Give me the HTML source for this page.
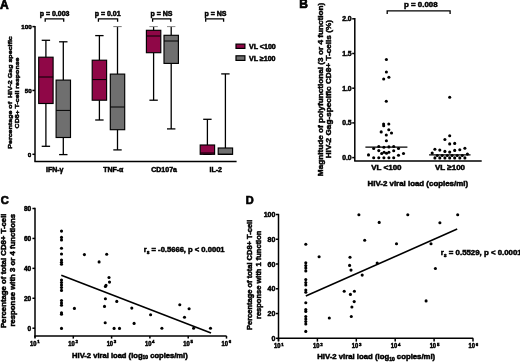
<!DOCTYPE html>
<html><head><meta charset="utf-8"><style>
html,body{margin:0;padding:0;background:#fff;}
body{width:520px;height:362px;overflow:hidden;}
svg{display:block;will-change:transform;}
text{font-family:"Liberation Sans", sans-serif;font-weight:bold;fill:#000;stroke:#000;stroke-width:0.5px;}
</style></head><body>
<svg width="520" height="362" viewBox="0 0 520 362">
<rect width="520" height="362" fill="#fff"/>
<text transform="translate(0.00,8.60) scale(1.0,1.0)" font-size="12" text-anchor="start" style="stroke-width:0.7px">A</text>
<text transform="translate(299.30,8.40) scale(1.0,1.0)" font-size="12" text-anchor="start" style="stroke-width:0.7px">B</text>
<text transform="translate(0.80,204.20) scale(1.0,1.0)" font-size="11.1" text-anchor="start" style="stroke-width:0.7px">C</text>
<text transform="translate(245.80,204.10) scale(1.0,1.0)" font-size="11.0" text-anchor="start" style="stroke-width:0.7px">D</text>
<line x1="35.00" y1="25.95" x2="35.00" y2="161.40" stroke="#000" stroke-width="1.5"/>
<line x1="34.35" y1="161.40" x2="236.60" y2="161.40" stroke="#000" stroke-width="1.5"/>
<line x1="32.40" y1="154.30" x2="35.00" y2="154.30" stroke="#000" stroke-width="1.5"/>
<line x1="32.40" y1="90.45" x2="35.00" y2="90.45" stroke="#000" stroke-width="1.5"/>
<line x1="32.40" y1="26.60" x2="35.00" y2="26.60" stroke="#000" stroke-width="1.5"/>
<text transform="translate(31.60,28.80) scale(1.0,1.0)" font-size="6.2" text-anchor="end" >100</text>
<text transform="translate(31.60,92.65) scale(1.0,1.0)" font-size="6.2" text-anchor="end" >50</text>
<text transform="translate(31.30,156.50) scale(1.0,1.0)" font-size="6.2" text-anchor="end" >0</text>
<text transform="translate(11.80,92.50) scale(0.88,1) rotate(-90)" x="0" y="0" font-size="7.1" text-anchor="middle" >Percentage of&#160; HIV-2 Gag specific</text>
<text transform="translate(19.30,93.00) scale(0.88,1) rotate(-90)" x="0" y="0" font-size="7.0" text-anchor="middle" >CD8+ T-cell response</text>
<line x1="45.90" y1="40.30" x2="45.90" y2="57.20" stroke="#000" stroke-width="1.3"/>
<line x1="41.70" y1="40.30" x2="50.10" y2="40.30" stroke="#000" stroke-width="1.3"/>
<line x1="45.90" y1="103.50" x2="45.90" y2="146.30" stroke="#000" stroke-width="1.3"/>
<line x1="41.70" y1="146.30" x2="50.10" y2="146.30" stroke="#000" stroke-width="1.3"/>
<rect x="38.70" y="57.20" width="14.40" height="46.30" fill="#8f0747" stroke="#000" stroke-width="1.15"/>
<line x1="38.70" y1="77.00" x2="53.10" y2="77.00" stroke="#000" stroke-width="1.0"/>
<line x1="63.30" y1="41.80" x2="63.30" y2="80.10" stroke="#000" stroke-width="1.3"/>
<line x1="59.10" y1="41.80" x2="67.50" y2="41.80" stroke="#000" stroke-width="1.3"/>
<line x1="63.30" y1="137.50" x2="63.30" y2="154.60" stroke="#000" stroke-width="1.3"/>
<line x1="59.10" y1="154.60" x2="67.50" y2="154.60" stroke="#000" stroke-width="1.3"/>
<rect x="56.10" y="80.10" width="14.40" height="57.40" fill="#6f6f6f" stroke="#000" stroke-width="1.15"/>
<line x1="56.10" y1="110.40" x2="70.50" y2="110.40" stroke="#000" stroke-width="1.0"/>
<line x1="99.40" y1="35.60" x2="99.40" y2="60.20" stroke="#000" stroke-width="1.3"/>
<line x1="95.20" y1="35.60" x2="103.60" y2="35.60" stroke="#000" stroke-width="1.3"/>
<line x1="99.40" y1="100.20" x2="99.40" y2="120.00" stroke="#000" stroke-width="1.3"/>
<line x1="95.20" y1="120.00" x2="103.60" y2="120.00" stroke="#000" stroke-width="1.3"/>
<rect x="92.20" y="60.20" width="14.40" height="40.00" fill="#8f0747" stroke="#000" stroke-width="1.15"/>
<line x1="92.20" y1="79.60" x2="106.60" y2="79.60" stroke="#000" stroke-width="1.0"/>
<line x1="117.50" y1="26.60" x2="117.50" y2="74.10" stroke="#000" stroke-width="1.3"/>
<line x1="113.30" y1="26.60" x2="121.70" y2="26.60" stroke="#777" stroke-width="1.0"/>
<line x1="117.50" y1="129.70" x2="117.50" y2="149.90" stroke="#000" stroke-width="1.3"/>
<line x1="113.30" y1="149.90" x2="121.70" y2="149.90" stroke="#000" stroke-width="1.3"/>
<rect x="110.30" y="74.10" width="14.40" height="55.60" fill="#6f6f6f" stroke="#000" stroke-width="1.15"/>
<line x1="110.30" y1="107.00" x2="124.70" y2="107.00" stroke="#000" stroke-width="1.0"/>
<line x1="153.60" y1="26.60" x2="153.60" y2="30.30" stroke="#000" stroke-width="1.3"/>
<line x1="149.40" y1="26.60" x2="157.80" y2="26.60" stroke="#8a8a8a" stroke-width="1.0"/>
<line x1="153.60" y1="52.70" x2="153.60" y2="100.20" stroke="#000" stroke-width="1.3"/>
<line x1="149.40" y1="100.20" x2="157.80" y2="100.20" stroke="#000" stroke-width="1.3"/>
<rect x="146.40" y="30.30" width="14.40" height="22.40" fill="#8f0747" stroke="#000" stroke-width="1.15"/>
<line x1="146.40" y1="36.00" x2="160.80" y2="36.00" stroke="#000" stroke-width="1.0"/>
<line x1="171.20" y1="26.60" x2="171.20" y2="35.30" stroke="#000" stroke-width="1.3"/>
<line x1="167.00" y1="26.60" x2="175.40" y2="26.60" stroke="#8a8a8a" stroke-width="1.0"/>
<line x1="171.20" y1="63.40" x2="171.20" y2="128.90" stroke="#000" stroke-width="1.3"/>
<line x1="167.00" y1="128.90" x2="175.40" y2="128.90" stroke="#000" stroke-width="1.3"/>
<rect x="164.00" y="35.30" width="14.40" height="28.10" fill="#6f6f6f" stroke="#000" stroke-width="1.15"/>
<line x1="164.00" y1="41.00" x2="178.40" y2="41.00" stroke="#000" stroke-width="1.0"/>
<line x1="207.40" y1="119.30" x2="207.40" y2="145.00" stroke="#000" stroke-width="1.3"/>
<line x1="203.20" y1="119.30" x2="211.60" y2="119.30" stroke="#000" stroke-width="1.3"/>
<line x1="207.40" y1="154.30" x2="207.40" y2="154.30" stroke="#000" stroke-width="1.3"/>
<line x1="203.20" y1="154.30" x2="211.60" y2="154.30" stroke="#000" stroke-width="1.3"/>
<rect x="200.20" y="145.00" width="14.40" height="9.30" fill="#8f0747" stroke="#000" stroke-width="1.15"/>
<line x1="200.20" y1="153.00" x2="214.60" y2="153.00" stroke="#000" stroke-width="1.0"/>
<line x1="225.40" y1="73.90" x2="225.40" y2="148.00" stroke="#000" stroke-width="1.3"/>
<line x1="221.20" y1="73.90" x2="229.60" y2="73.90" stroke="#000" stroke-width="1.3"/>
<line x1="225.40" y1="154.30" x2="225.40" y2="154.30" stroke="#000" stroke-width="1.3"/>
<line x1="221.20" y1="154.30" x2="229.60" y2="154.30" stroke="#000" stroke-width="1.3"/>
<rect x="218.20" y="148.00" width="14.40" height="6.30" fill="#6f6f6f" stroke="#000" stroke-width="1.15"/>
<line x1="218.20" y1="154.30" x2="232.60" y2="154.30" stroke="#000" stroke-width="1.0"/>
<text transform="translate(54.70,172.20) scale(1.0,1.0)" font-size="7" text-anchor="middle" >IFN-γ</text>
<text transform="translate(113.30,172.20) scale(1.0,1.0)" font-size="7" text-anchor="middle" >TNF-α</text>
<text transform="translate(164.10,172.20) scale(1.0,1.0)" font-size="7" text-anchor="middle" >CD107a</text>
<text transform="translate(215.70,172.20) scale(1.0,1.0)" font-size="7" text-anchor="middle" >IL-2</text>
<text transform="translate(54.60,16.00) scale(1.0,1.0)" font-size="7" text-anchor="middle" >p = 0.003</text>
<path d="M45.20,21.70 V18.90 H63.70 V21.70" fill="none" stroke="#000" stroke-width="1.3"/>
<text transform="translate(107.60,16.00) scale(1.0,1.0)" font-size="7" text-anchor="middle" >p = 0.01</text>
<path d="M98.40,21.70 V18.90 H117.60 V21.70" fill="none" stroke="#000" stroke-width="1.3"/>
<text transform="translate(161.50,16.00) scale(1.0,1.0)" font-size="7" text-anchor="middle" >p = NS</text>
<path d="M152.60,21.70 V18.90 H170.80 V21.70" fill="none" stroke="#000" stroke-width="1.3"/>
<text transform="translate(215.50,16.00) scale(1.0,1.0)" font-size="7" text-anchor="middle" >p = NS</text>
<path d="M205.70,21.70 V18.90 H223.60 V21.70" fill="none" stroke="#000" stroke-width="1.3"/>
<rect x="236.0" y="44.1" width="8.9" height="4.3" fill="#8f0747" stroke="#000" stroke-width="1.2"/>
<rect x="236.0" y="55.8" width="8.9" height="4.6" fill="#6f6f6f" stroke="#000" stroke-width="1.2"/>
<text transform="translate(248.90,48.80) scale(1.0,1.0)" font-size="7.1" text-anchor="start" >VL &lt;100</text>
<text transform="translate(248.90,60.60) scale(1.0,1.0)" font-size="7.1" text-anchor="start" >VL ≥100</text>
<line x1="354.80" y1="18.05" x2="354.80" y2="161.00" stroke="#000" stroke-width="1.5"/>
<line x1="354.15" y1="161.00" x2="481.70" y2="161.00" stroke="#000" stroke-width="1.5"/>
<line x1="352.20" y1="157.60" x2="354.80" y2="157.60" stroke="#000" stroke-width="1.5"/>
<text transform="translate(351.60,160.00) scale(1.0,1.0)" font-size="6.8" text-anchor="end" >0.0</text>
<line x1="352.20" y1="122.90" x2="354.80" y2="122.90" stroke="#000" stroke-width="1.5"/>
<text transform="translate(351.60,125.30) scale(1.0,1.0)" font-size="6.8" text-anchor="end" >0.5</text>
<line x1="352.20" y1="88.20" x2="354.80" y2="88.20" stroke="#000" stroke-width="1.5"/>
<text transform="translate(351.60,90.60) scale(1.0,1.0)" font-size="6.8" text-anchor="end" >1.0</text>
<line x1="352.20" y1="53.50" x2="354.80" y2="53.50" stroke="#000" stroke-width="1.5"/>
<text transform="translate(351.60,55.90) scale(1.0,1.0)" font-size="6.8" text-anchor="end" >1.5</text>
<line x1="352.20" y1="18.80" x2="354.80" y2="18.80" stroke="#000" stroke-width="1.5"/>
<text transform="translate(351.60,21.20) scale(1.0,1.0)" font-size="6.8" text-anchor="end" >2.0</text>
<text transform="translate(322.60,89.45) scale(0.9,1) rotate(-90)" x="0" y="0" font-size="8.2" text-anchor="middle" >Magnitude of polyfunctional (3 or 4 function)</text>
<text transform="translate(331.40,89.20) scale(0.9,1) rotate(-90)" x="0" y="0" font-size="8.2" text-anchor="middle" >HIV-2 Gag-specific CD8+ T-cells (%)</text>
<text transform="translate(420.80,6.90) scale(1.0,1.0)" font-size="7.9" text-anchor="middle" >p = 0.008</text>
<path d="M387.20,14.10 V10.90 H450.10 V14.10" fill="none" stroke="#000" stroke-width="1.3"/>
<text transform="translate(386.40,169.70) scale(1.0,1.0)" font-size="8" text-anchor="middle" >VL &lt;100</text>
<text transform="translate(450.00,169.70) scale(1.0,1.0)" font-size="8" text-anchor="middle" >VL ≥100</text>
<text transform="translate(417.80,185.70) scale(1.0,1.0)" font-size="7.9" text-anchor="middle" >HIV-2 viral load (copies/ml)</text>
<circle cx="386.40" cy="59.50" r="1.55"/>
<circle cx="386.40" cy="72.00" r="1.55"/>
<circle cx="383.70" cy="79.00" r="1.55"/>
<circle cx="388.90" cy="77.20" r="1.55"/>
<circle cx="386.30" cy="101.30" r="1.55"/>
<circle cx="383.60" cy="124.00" r="1.55"/>
<circle cx="383.70" cy="125.80" r="1.55"/>
<circle cx="388.80" cy="124.00" r="1.55"/>
<circle cx="381.20" cy="131.90" r="1.55"/>
<circle cx="388.80" cy="129.80" r="1.55"/>
<circle cx="391.50" cy="133.00" r="1.55"/>
<circle cx="386.30" cy="135.00" r="1.55"/>
<circle cx="386.40" cy="140.70" r="1.55"/>
<circle cx="373.70" cy="148.50" r="1.55"/>
<circle cx="378.80" cy="146.50" r="1.55"/>
<circle cx="383.90" cy="147.20" r="1.55"/>
<circle cx="388.90" cy="146.90" r="1.55"/>
<circle cx="393.70" cy="146.50" r="1.55"/>
<circle cx="398.50" cy="148.50" r="1.55"/>
<circle cx="378.80" cy="150.60" r="1.55"/>
<circle cx="393.70" cy="150.80" r="1.55"/>
<circle cx="381.70" cy="153.50" r="1.55"/>
<circle cx="384.10" cy="152.30" r="1.55"/>
<circle cx="386.50" cy="153.30" r="1.55"/>
<circle cx="388.90" cy="152.30" r="1.55"/>
<circle cx="368.50" cy="154.90" r="1.55"/>
<circle cx="398.50" cy="155.20" r="1.55"/>
<circle cx="403.50" cy="153.50" r="1.55"/>
<circle cx="373.70" cy="157.80" r="1.55"/>
<circle cx="378.80" cy="157.80" r="1.55"/>
<circle cx="383.90" cy="157.80" r="1.55"/>
<circle cx="388.90" cy="157.80" r="1.55"/>
<circle cx="393.70" cy="157.80" r="1.55"/>
<circle cx="449.70" cy="97.30" r="1.55"/>
<circle cx="449.70" cy="135.70" r="1.55"/>
<circle cx="444.90" cy="139.50" r="1.55"/>
<circle cx="449.70" cy="143.90" r="1.55"/>
<circle cx="454.70" cy="143.40" r="1.55"/>
<circle cx="434.90" cy="149.30" r="1.55"/>
<circle cx="439.80" cy="150.10" r="1.55"/>
<circle cx="444.90" cy="151.40" r="1.55"/>
<circle cx="449.70" cy="152.10" r="1.55"/>
<circle cx="454.70" cy="150.40" r="1.55"/>
<circle cx="459.80" cy="149.70" r="1.55"/>
<circle cx="464.90" cy="148.30" r="1.55"/>
<circle cx="432.20" cy="153.10" r="1.55"/>
<circle cx="467.40" cy="154.10" r="1.55"/>
<circle cx="437.30" cy="155.50" r="1.55"/>
<circle cx="442.20" cy="155.50" r="1.55"/>
<circle cx="447.30" cy="155.50" r="1.55"/>
<circle cx="452.10" cy="155.50" r="1.55"/>
<circle cx="457.20" cy="155.50" r="1.55"/>
<circle cx="462.30" cy="155.50" r="1.55"/>
<circle cx="434.90" cy="157.90" r="1.55"/>
<circle cx="439.80" cy="157.90" r="1.55"/>
<circle cx="444.90" cy="157.90" r="1.55"/>
<circle cx="449.70" cy="157.90" r="1.55"/>
<circle cx="454.70" cy="157.90" r="1.55"/>
<circle cx="459.80" cy="157.90" r="1.55"/>
<circle cx="464.90" cy="157.90" r="1.55"/>
<line x1="365.40" y1="147.10" x2="407.40" y2="147.10" stroke="#000" stroke-width="1.25"/>
<line x1="429.10" y1="154.90" x2="470.50" y2="154.90" stroke="#000" stroke-width="1.25"/>
<line x1="35.00" y1="207.85" x2="35.00" y2="337.60" stroke="#000" stroke-width="1.5"/>
<line x1="34.35" y1="335.90" x2="226.50" y2="335.90" stroke="#000" stroke-width="1.5"/>
<line x1="32.40" y1="328.20" x2="35.00" y2="328.20" stroke="#000" stroke-width="1.5"/>
<text transform="translate(31.20,330.50) scale(1.0,1.0)" font-size="6.5" text-anchor="end" >0</text>
<line x1="32.40" y1="298.27" x2="35.00" y2="298.27" stroke="#000" stroke-width="1.5"/>
<text transform="translate(31.20,300.57) scale(1.0,1.0)" font-size="6.5" text-anchor="end" >20</text>
<line x1="32.40" y1="268.35" x2="35.00" y2="268.35" stroke="#000" stroke-width="1.5"/>
<text transform="translate(31.20,270.65) scale(1.0,1.0)" font-size="6.5" text-anchor="end" >40</text>
<line x1="32.40" y1="238.43" x2="35.00" y2="238.43" stroke="#000" stroke-width="1.5"/>
<text transform="translate(31.20,240.73) scale(1.0,1.0)" font-size="6.5" text-anchor="end" >60</text>
<line x1="32.40" y1="208.50" x2="35.00" y2="208.50" stroke="#000" stroke-width="1.5"/>
<text transform="translate(31.20,210.80) scale(1.0,1.0)" font-size="6.5" text-anchor="end" >80</text>
<line x1="35.00" y1="335.90" x2="35.00" y2="338.60" stroke="#000" stroke-width="1.5"/>
<text transform="translate(36.50,345.80) scale(0.92,1.0)" font-size="6.3" text-anchor="end" >10</text>
<text transform="translate(37.20,343.30) scale(1.0,1.0)" font-size="4.4" text-anchor="start" >1</text>
<line x1="73.30" y1="335.90" x2="73.30" y2="338.60" stroke="#000" stroke-width="1.5"/>
<text transform="translate(74.80,345.80) scale(0.92,1.0)" font-size="6.3" text-anchor="end" >10</text>
<text transform="translate(75.50,343.30) scale(1.0,1.0)" font-size="4.4" text-anchor="start" >2</text>
<line x1="111.60" y1="335.90" x2="111.60" y2="338.60" stroke="#000" stroke-width="1.5"/>
<text transform="translate(113.10,345.80) scale(0.92,1.0)" font-size="6.3" text-anchor="end" >10</text>
<text transform="translate(113.80,343.30) scale(1.0,1.0)" font-size="4.4" text-anchor="start" >3</text>
<line x1="149.90" y1="335.90" x2="149.90" y2="338.60" stroke="#000" stroke-width="1.5"/>
<text transform="translate(151.40,345.80) scale(0.92,1.0)" font-size="6.3" text-anchor="end" >10</text>
<text transform="translate(152.10,343.30) scale(1.0,1.0)" font-size="4.4" text-anchor="start" >4</text>
<line x1="188.20" y1="335.90" x2="188.20" y2="338.60" stroke="#000" stroke-width="1.5"/>
<text transform="translate(189.70,345.80) scale(0.92,1.0)" font-size="6.3" text-anchor="end" >10</text>
<text transform="translate(190.40,343.30) scale(1.0,1.0)" font-size="4.4" text-anchor="start" >5</text>
<line x1="226.50" y1="335.90" x2="226.50" y2="338.60" stroke="#000" stroke-width="1.5"/>
<text transform="translate(228.00,345.80) scale(0.92,1.0)" font-size="6.3" text-anchor="end" >10</text>
<text transform="translate(228.70,343.30) scale(1.0,1.0)" font-size="4.4" text-anchor="start" >6</text>
<text transform="translate(129.90,357.80) scale(1.0,1.0)" font-size="7.6" text-anchor="middle" >HIV-2 viral load (log<tspan font-size="5" dy="1.6">10</tspan><tspan dy="-1.6"> copies/ml)</tspan></text>
<text transform="translate(6.30,270.80) scale(1.0,1) rotate(-90)" x="0" y="0" font-size="7.8" text-anchor="middle" >Percentage of total CD8+ T-cell</text>
<text transform="translate(14.80,270.30) scale(1.0,1) rotate(-90)" x="0" y="0" font-size="7.8" text-anchor="middle" >response with 3 or 4 functions</text>
<text transform="translate(143.70,252.40) scale(1.0,1.0)" font-size="7.6" text-anchor="start" >r<tspan font-size="5" dy="1.8">s</tspan><tspan dy="-1.8"> = -0.5666, p &lt; 0.0001</tspan></text>
<line x1="61.30" y1="275.20" x2="211.00" y2="332.90" stroke="#000" stroke-width="1.6"/>
<circle cx="61.50" cy="231.10" r="1.55"/>
<circle cx="61.50" cy="237.40" r="1.55"/>
<circle cx="61.50" cy="240.00" r="1.55"/>
<circle cx="61.50" cy="248.20" r="1.55"/>
<circle cx="61.50" cy="254.00" r="1.55"/>
<circle cx="61.50" cy="260.00" r="1.55"/>
<circle cx="61.50" cy="262.20" r="1.55"/>
<circle cx="61.50" cy="264.20" r="1.55"/>
<circle cx="61.50" cy="280.00" r="1.55"/>
<circle cx="61.50" cy="282.50" r="1.55"/>
<circle cx="61.50" cy="285.00" r="1.55"/>
<circle cx="61.50" cy="287.50" r="1.55"/>
<circle cx="61.50" cy="290.40" r="1.55"/>
<circle cx="61.50" cy="300.50" r="1.55"/>
<circle cx="61.50" cy="303.00" r="1.55"/>
<circle cx="61.50" cy="305.20" r="1.55"/>
<circle cx="61.50" cy="312.80" r="1.55"/>
<circle cx="61.50" cy="314.20" r="1.55"/>
<circle cx="61.50" cy="328.40" r="1.55"/>
<circle cx="84.40" cy="254.60" r="1.55"/>
<circle cx="106.70" cy="254.20" r="1.55"/>
<circle cx="99.10" cy="261.90" r="1.55"/>
<circle cx="109.00" cy="277.50" r="1.55"/>
<circle cx="109.50" cy="282.10" r="1.55"/>
<circle cx="106.00" cy="285.40" r="1.55"/>
<circle cx="105.40" cy="286.50" r="1.55"/>
<circle cx="105.40" cy="298.80" r="1.55"/>
<circle cx="116.80" cy="301.40" r="1.55"/>
<circle cx="104.50" cy="306.40" r="1.55"/>
<circle cx="74.40" cy="308.40" r="1.55"/>
<circle cx="131.80" cy="308.10" r="1.55"/>
<circle cx="105.20" cy="322.80" r="1.55"/>
<circle cx="134.10" cy="323.40" r="1.55"/>
<circle cx="114.10" cy="328.40" r="1.55"/>
<circle cx="119.50" cy="328.40" r="1.55"/>
<circle cx="150.60" cy="314.80" r="1.55"/>
<circle cx="161.90" cy="328.30" r="1.55"/>
<circle cx="179.80" cy="304.80" r="1.55"/>
<circle cx="189.10" cy="308.80" r="1.55"/>
<circle cx="184.50" cy="317.30" r="1.55"/>
<circle cx="193.60" cy="328.20" r="1.55"/>
<circle cx="210.50" cy="328.30" r="1.55"/>
<line x1="278.50" y1="213.85" x2="278.50" y2="341.00" stroke="#000" stroke-width="1.5"/>
<line x1="277.85" y1="338.30" x2="473.20" y2="338.30" stroke="#000" stroke-width="1.5"/>
<line x1="275.90" y1="338.30" x2="278.50" y2="338.30" stroke="#000" stroke-width="1.5"/>
<text transform="translate(275.40,340.80) scale(1.0,1.0)" font-size="7" text-anchor="end" >0</text>
<line x1="275.90" y1="313.54" x2="278.50" y2="313.54" stroke="#000" stroke-width="1.5"/>
<text transform="translate(275.40,316.04) scale(1.0,1.0)" font-size="7" text-anchor="end" >20</text>
<line x1="275.90" y1="288.78" x2="278.50" y2="288.78" stroke="#000" stroke-width="1.5"/>
<text transform="translate(275.40,291.28) scale(1.0,1.0)" font-size="7" text-anchor="end" >40</text>
<line x1="275.90" y1="264.02" x2="278.50" y2="264.02" stroke="#000" stroke-width="1.5"/>
<text transform="translate(275.40,266.52) scale(1.0,1.0)" font-size="7" text-anchor="end" >60</text>
<line x1="275.90" y1="239.26" x2="278.50" y2="239.26" stroke="#000" stroke-width="1.5"/>
<text transform="translate(275.40,241.76) scale(1.0,1.0)" font-size="7" text-anchor="end" >80</text>
<line x1="275.90" y1="214.50" x2="278.50" y2="214.50" stroke="#000" stroke-width="1.5"/>
<text transform="translate(275.40,217.00) scale(1.0,1.0)" font-size="7" text-anchor="end" >100</text>
<line x1="278.50" y1="338.30" x2="278.50" y2="341.60" stroke="#000" stroke-width="1.5"/>
<text transform="translate(280.50,348.00) scale(0.92,1.0)" font-size="6.3" text-anchor="end" >10</text>
<text transform="translate(281.30,345.60) scale(1.0,1.0)" font-size="4.4" text-anchor="start" >1</text>
<line x1="317.40" y1="338.30" x2="317.40" y2="341.60" stroke="#000" stroke-width="1.5"/>
<text transform="translate(319.40,348.00) scale(0.92,1.0)" font-size="6.3" text-anchor="end" >10</text>
<text transform="translate(320.20,345.60) scale(1.0,1.0)" font-size="4.4" text-anchor="start" >2</text>
<line x1="356.30" y1="338.30" x2="356.30" y2="341.60" stroke="#000" stroke-width="1.5"/>
<text transform="translate(358.30,348.00) scale(0.92,1.0)" font-size="6.3" text-anchor="end" >10</text>
<text transform="translate(359.10,345.60) scale(1.0,1.0)" font-size="4.4" text-anchor="start" >3</text>
<line x1="395.20" y1="338.30" x2="395.20" y2="341.60" stroke="#000" stroke-width="1.5"/>
<text transform="translate(397.20,348.00) scale(0.92,1.0)" font-size="6.3" text-anchor="end" >10</text>
<text transform="translate(398.00,345.60) scale(1.0,1.0)" font-size="4.4" text-anchor="start" >4</text>
<line x1="434.10" y1="338.30" x2="434.10" y2="341.60" stroke="#000" stroke-width="1.5"/>
<text transform="translate(436.10,348.00) scale(0.92,1.0)" font-size="6.3" text-anchor="end" >10</text>
<text transform="translate(436.90,345.60) scale(1.0,1.0)" font-size="4.4" text-anchor="start" >5</text>
<line x1="473.00" y1="338.30" x2="473.00" y2="341.60" stroke="#000" stroke-width="1.5"/>
<text transform="translate(475.00,348.00) scale(0.92,1.0)" font-size="6.3" text-anchor="end" >10</text>
<text transform="translate(475.80,345.60) scale(1.0,1.0)" font-size="4.4" text-anchor="start" >6</text>
<text transform="translate(376.20,359.30) scale(1.0,1.0)" font-size="7.75" text-anchor="middle" >HIV-2 viral load (log<tspan font-size="5" dy="1.6">10</tspan><tspan dy="-1.6"> copies/ml)</tspan></text>
<text transform="translate(252.30,274.90) scale(1.0,1) rotate(-90)" x="0" y="0" font-size="7.5" text-anchor="middle" >Percentage of total CD8+ T-cell</text>
<text transform="translate(261.30,274.80) scale(1.0,1) rotate(-90)" x="0" y="0" font-size="7.5" text-anchor="middle" >response with 1 function</text>
<text transform="translate(440.70,255.30) scale(1.0,1.0)" font-size="7.85" text-anchor="start" >r<tspan font-size="5.2" dy="1.9">s</tspan><tspan dy="-1.9"> = 0.5529, p &lt; 0.0001</tspan></text>
<line x1="305.80" y1="296.00" x2="457.20" y2="229.10" stroke="#000" stroke-width="1.6"/>
<circle cx="305.80" cy="244.20" r="1.55"/>
<circle cx="305.80" cy="262.80" r="1.55"/>
<circle cx="305.80" cy="265.60" r="1.55"/>
<circle cx="305.80" cy="268.10" r="1.55"/>
<circle cx="305.80" cy="270.90" r="1.55"/>
<circle cx="305.80" cy="279.60" r="1.55"/>
<circle cx="305.80" cy="282.60" r="1.55"/>
<circle cx="305.80" cy="285.00" r="1.55"/>
<circle cx="305.80" cy="290.00" r="1.55"/>
<circle cx="305.80" cy="292.30" r="1.55"/>
<circle cx="305.80" cy="302.70" r="1.55"/>
<circle cx="305.80" cy="309.60" r="1.55"/>
<circle cx="305.80" cy="311.40" r="1.55"/>
<circle cx="305.80" cy="316.50" r="1.55"/>
<circle cx="305.80" cy="319.00" r="1.55"/>
<circle cx="305.80" cy="321.50" r="1.55"/>
<circle cx="305.80" cy="324.00" r="1.55"/>
<circle cx="305.80" cy="331.40" r="1.55"/>
<circle cx="319.10" cy="256.70" r="1.55"/>
<circle cx="329.30" cy="318.00" r="1.55"/>
<circle cx="358.90" cy="214.70" r="1.55"/>
<circle cx="407.80" cy="214.70" r="1.55"/>
<circle cx="379.20" cy="222.40" r="1.55"/>
<circle cx="364.70" cy="240.20" r="1.55"/>
<circle cx="396.50" cy="243.70" r="1.55"/>
<circle cx="350.00" cy="257.20" r="1.55"/>
<circle cx="349.60" cy="265.40" r="1.55"/>
<circle cx="351.00" cy="270.10" r="1.55"/>
<circle cx="362.20" cy="275.10" r="1.55"/>
<circle cx="377.20" cy="263.00" r="1.55"/>
<circle cx="344.20" cy="291.30" r="1.55"/>
<circle cx="354.40" cy="291.30" r="1.55"/>
<circle cx="350.40" cy="294.40" r="1.55"/>
<circle cx="354.20" cy="301.60" r="1.55"/>
<circle cx="351.90" cy="307.00" r="1.55"/>
<circle cx="351.30" cy="316.50" r="1.55"/>
<circle cx="457.70" cy="214.70" r="1.55"/>
<circle cx="439.90" cy="222.80" r="1.55"/>
<circle cx="431.00" cy="243.80" r="1.55"/>
<circle cx="435.40" cy="268.50" r="1.55"/>
<circle cx="426.10" cy="300.90" r="1.55"/>
</svg>
</body></html>
